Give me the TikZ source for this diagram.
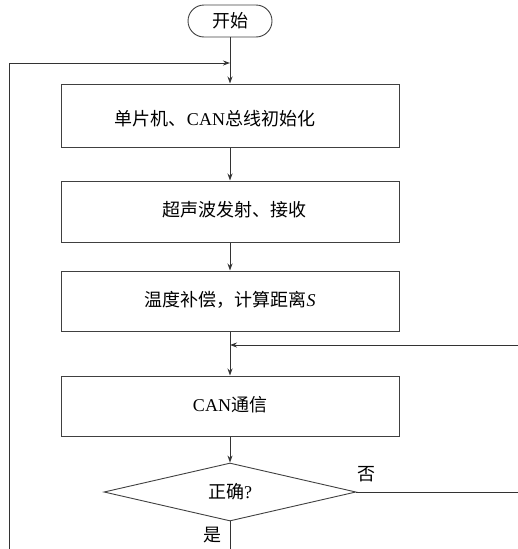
\documentclass[tikz,border=0pt]{standalone}
\usepackage{fontspec}
\setmainfont{Liberation Serif}
\newfontfamily\cjk{Noto Sans CJK SC}
\usetikzlibrary{shapes.misc,shapes.geometric,arrows.meta}
\begin{document}
\begin{tikzpicture}[x=1pt,y=-1pt,
  every node/.style={font=\fontsize{18pt}{20pt}\selectfont},
  line/.style={line width=0.9pt,draw=black!80},
  arr/.style={line, -{Stealth[length=7pt,width=5pt]}},
  procbox/.style={draw=black!75,line width=1pt,rectangle,minimum width=338pt,inner sep=0pt},
  lbl/.style={inner sep=0pt}]
\useasboundingbox (0,0) rectangle (518,549);
\node[draw=black!75,line width=0.9pt,rounded rectangle,minimum width=84pt,minimum height=32pt,inner sep=0pt] (start) at (230,21) {\cjk 开始};
\coordinate (j1) at (230,63);
\node[procbox,minimum height=63pt] (b1) at (230,115.5) {};
\node[lbl] (t1) at (215,119) {{\cjk 单片机、}CAN{\cjk 总线初始化}};
\node[procbox,minimum height=61pt] (b2) at (230,211.5) {};
\node[lbl] (t2) at (234,210) {\cjk 超声波发射、接收};
\node[procbox,minimum height=60pt] (b3) at (230,301) {};
\node[lbl] (t3) at (230,300) {{\cjk 温度补偿，计算距离}\textit{S}};
\coordinate (j2) at (230,345);
\node[procbox,minimum height=60pt] (b4) at (230,406) {};
\node[lbl] (t4) at (230,405) {CAN{\cjk 通信}};
\node[draw=black!75,line width=0.9pt,diamond,minimum width=252pt,minimum height=58pt,inner sep=0pt] (d) at (230,492) {};
\node[lbl] (t5) at (230,492) {{\cjk 正确}?};
\node[lbl] (yes) at (212,535) {\cjk 是};
\node[lbl] (no) at (366,474) {\cjk 否};
\coordinate (yesend) at (230,549);
\coordinate (noend) at (518,492);
\coordinate (backin) at (518,345);
\coordinate (loopbot) at (9,549);
\coordinate (looptop) at (9,63);
\draw[arr] (start.south) -- (b1.north);
\draw[arr] (b1.south) -- (b2.north);
\draw[arr] (b2.south) -- (b3.north);
\draw[arr] (b3.south) -- (b4.north);
\draw[arr] (b4.south) -- (d.north);
\draw[line] (d.south) -- (yesend);
\draw[line] (d.east) -- (noend);
\draw[arr] (backin) -- (j2);
\draw[arr] (loopbot) -- (looptop) -- (j1);
\end{tikzpicture}
\end{document}
